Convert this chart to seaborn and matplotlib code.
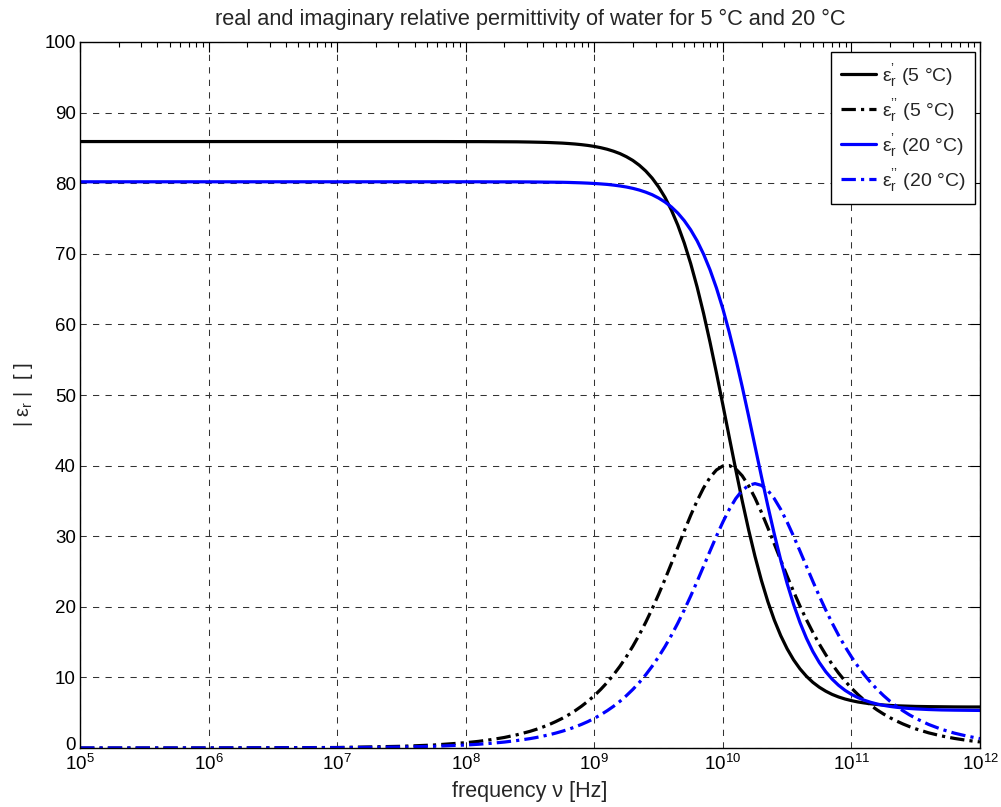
import matplotlib
matplotlib.use("Agg")
import matplotlib.pyplot as plt
import matplotlib.transforms as mtransforms
from matplotlib.ticker import FixedLocator, MultipleLocator, LogLocator, LogFormatterMathtext, NullFormatter
import numpy as np
import pandas as pd
import seaborn as sns

# log10 of frequency in Hz
log_freq = [5.0, 6.0, 7.0, 7.5, 7.75,
            8.0, 8.1, 8.2, 8.3, 8.4,
            8.50, 8.55, 8.60, 8.65, 8.70, 8.75, 8.80, 8.85, 8.90, 8.95,
            9.00, 9.05, 9.10, 9.15, 9.20, 9.25, 9.30, 9.35, 9.40, 9.45,
            9.50, 9.55, 9.60, 9.65, 9.70, 9.75, 9.80, 9.85, 9.90, 9.95,
            10.00, 10.05, 10.10, 10.15, 10.20, 10.25, 10.30, 10.35, 10.40, 10.45,
            10.50, 10.55, 10.60, 10.65, 10.70, 10.75, 10.80, 10.85, 10.90, 10.95,
            11.00, 11.05, 11.10, 11.15, 11.20, 11.25, 11.30, 11.35, 11.40, 11.45,
            11.50, 11.6, 11.7, 11.8, 11.9, 12.0]

# real part, 5 °C
real_5C = [85.9, 85.9, 85.9, 85.9, 85.9,
           85.89, 85.89, 85.88, 85.87, 85.86,
           85.83, 85.81, 85.79, 85.76, 85.72, 85.68, 85.62, 85.55, 85.46, 85.35,
           85.21, 85.03, 84.81, 84.53, 84.19, 83.75, 83.22, 82.55, 81.73, 80.72,
           79.48, 77.99, 76.18, 74.04, 71.52, 68.60, 65.28, 61.56, 57.49, 53.14,
           48.61, 44.01, 39.45, 35.06, 30.93, 27.14, 23.73, 20.73, 18.13, 15.92,
           14.05, 12.49, 11.21, 10.16, 9.30, 8.61, 8.05, 7.59, 7.23, 6.94,
           6.71, 6.52, 6.38, 6.26, 6.16, 6.09, 6.03, 5.98, 5.95, 5.92,
           5.89, 5.86, 5.84, 5.82, 5.81, 5.81]

# imaginary part, 5 °C
imag_5C = [0.0, 0.01, 0.07, 0.24, 0.42,
           0.75, 0.94, 1.19, 1.49, 1.88,
           2.36, 2.65, 2.97, 3.33, 3.74, 4.19, 4.70, 5.27, 5.91, 6.62,
           7.41, 8.30, 9.28, 10.38, 11.59, 12.94, 14.42, 16.04, 17.80, 19.71,
           21.75, 23.90, 26.15, 28.45, 30.74, 32.96, 35.02, 36.84, 38.32, 39.38,
           39.95, 40.01, 39.54, 38.57, 37.17, 35.41, 33.39, 31.19, 28.91, 26.61,
           24.35, 22.17, 20.10, 18.17, 16.38, 14.73, 13.22, 11.85, 10.61, 9.49,
           8.49, 7.58, 6.77, 6.04, 5.39, 4.81, 4.29, 3.83, 3.41, 3.04,
           2.71, 2.15, 1.71, 1.36, 1.08, 0.86]

# real part, 20 °C
real_20C = [80.2, 80.2, 80.2, 80.2, 80.2,
            80.20, 80.20, 80.19, 80.19, 80.19,
            80.18, 80.17, 80.16, 80.15, 80.14, 80.13, 80.11, 80.08, 80.05, 80.01,
            79.96, 79.90, 79.83, 79.73, 79.61, 79.46, 79.27, 79.03, 78.73, 78.37,
            77.90, 77.33, 76.63, 75.76, 74.69, 73.39, 71.83, 69.95, 67.74, 65.16,
            62.21, 58.87, 55.19, 51.22, 47.04, 42.75, 38.46, 34.28, 30.31, 26.63,
            23.29, 20.34, 17.76, 15.55, 13.67, 12.11, 10.81, 9.75, 8.88, 8.17,
            7.60, 7.14, 6.77, 6.47, 6.23, 6.04, 5.89, 5.77, 5.67, 5.60,
            5.54, 5.45, 5.39, 5.36, 5.34, 5.32]

# imaginary part, 20 °C
imag_20C = [0.0, 0.0, 0.04, 0.13, 0.24,
            0.42, 0.53, 0.67, 0.84, 1.06,
            1.33, 1.49, 1.68, 1.88, 2.11, 2.37, 2.65, 2.98, 3.34, 3.74,
            4.20, 4.71, 5.28, 5.91, 6.62, 7.42, 8.30, 9.28, 10.37, 11.58,
            12.91, 14.37, 15.97, 17.70, 19.56, 21.53, 23.60, 25.74, 27.89, 30.00,
            32.00, 33.80, 35.32, 36.48, 37.20, 37.45, 37.20, 36.48, 35.32, 33.80,
            32.00, 30.00, 27.89, 25.74, 23.60, 21.53, 19.56, 17.70, 15.97, 14.37,
            12.91, 11.58, 10.37, 9.28, 8.30, 7.42, 6.62, 5.91, 5.28, 4.71,
            4.20, 3.34, 2.65, 2.11, 1.68, 1.33]

# x tick positions (decades shown on the axis)
x_decades = [5, 6, 7, 8, 9, 10, 11, 12]

labels = ["ε$^{\\mathregular{\u2019}}_{\\mathregular{r}}$ (5 °C)",
          "ε$^{\\mathregular{\u2019\u2019}}_{\\mathregular{r}}$ (5 °C)",
          "ε$^{\\mathregular{\u2019}}_{\\mathregular{r}}$ (20 °C)",
          "ε$^{\\mathregular{\u2019\u2019}}_{\\mathregular{r}}$ (20 °C)"]

freq = 10.0 ** np.array(log_freq)
df = pd.DataFrame({"freq": freq,
                   labels[0]: real_5C, labels[1]: imag_5C,
                   labels[2]: real_20C, labels[3]: imag_20C})

sns.set_theme(style="white")
plt.rcParams["font.family"] = ["Liberation Sans", "DejaVu Sans"]
plt.rcParams["mathtext.default"] = "regular"
plt.rcParams["mathtext.fontset"] = "custom"
plt.rcParams["mathtext.rm"] = "Liberation Sans"
plt.rcParams["mathtext.it"] = "Liberation Sans:italic"

fig = plt.figure(figsize=(10.01, 8.07), dpi=100)
ax = fig.add_axes([80 / 1001, 1 - 748 / 807, 900 / 1001, 706 / 807])

dashdot = (0, (4.5, 1.6, 1.0, 1.6))
styles = [("black", "-"), ("black", dashdot), ("#0000ff", "-"), ("#0000ff", dashdot)]
for lab, (col, ls) in zip(labels, styles):
    sns.lineplot(data=df, x="freq", y=lab, ax=ax, color=col, linestyle=ls,
                 linewidth=2.3, label=lab, sort=False)

ax.set_xscale("log")
ax.set_xlim(1e5, 1e12)
ax.set_ylim(0, 100)
ax.xaxis.set_major_locator(FixedLocator([10.0 ** k for k in x_decades]))
ax.xaxis.set_major_formatter(LogFormatterMathtext())
ax.xaxis.set_minor_locator(LogLocator(base=10, subs=np.arange(2, 10), numticks=100))
ax.xaxis.set_minor_formatter(NullFormatter())
ax.yaxis.set_major_locator(MultipleLocator(10))

ax.set_axisbelow(True)
ax.grid(True, which="major", color="#333333", linestyle=(0, (6, 6)), linewidth=0.75)
ax.grid(False, which="minor")

for s in ax.spines.values():
    s.set_visible(True)
    s.set_color("black")
    s.set_linewidth(1.0)

ax.tick_params(which="both", direction="in", top=True, right=True,
               labelsize=13.5, colors="black", width=0.8)
ax.tick_params(which="major", length=7, pad=3)
ax.tick_params(axis="x", which="major", pad=4.5)
ax.tick_params(which="minor", length=3.5)

ax.set_xlabel("frequency ν [Hz]", fontsize=15.5, labelpad=5)
ax.set_ylabel("| ε$_{\\mathregular{r}}$ |  [ ]", fontsize=14.5, labelpad=7)
ax.set_title("real and imaginary relative permittivity of water for 5 °C and 20 °C",
             fontsize=15.7, pad=12)

leg = ax.legend(loc="upper right", bbox_to_anchor=(0.9944, 0.9858), fontsize=14,
                frameon=True, fancybox=False, edgecolor="black", framealpha=1,
                handlelength=1.8, labelspacing=0.42, borderaxespad=0.0,
                handletextpad=0.3, borderpad=0.5)
leg.get_frame().set_linewidth(1.0)

# lift the "0" label a little so it clears the first decade label
fig.canvas.draw()
lift = mtransforms.ScaledTranslation(0, 5 / 100, fig.dpi_scale_trans)
for tick in ax.yaxis.get_major_ticks():
    if tick.label1.get_text() in ("0", "\u22120") and abs(tick.get_loc()) < 1e-9:
        tick.label1.set_transform(tick.label1.get_transform() + lift)

fig.savefig("out.png", dpi=100)
